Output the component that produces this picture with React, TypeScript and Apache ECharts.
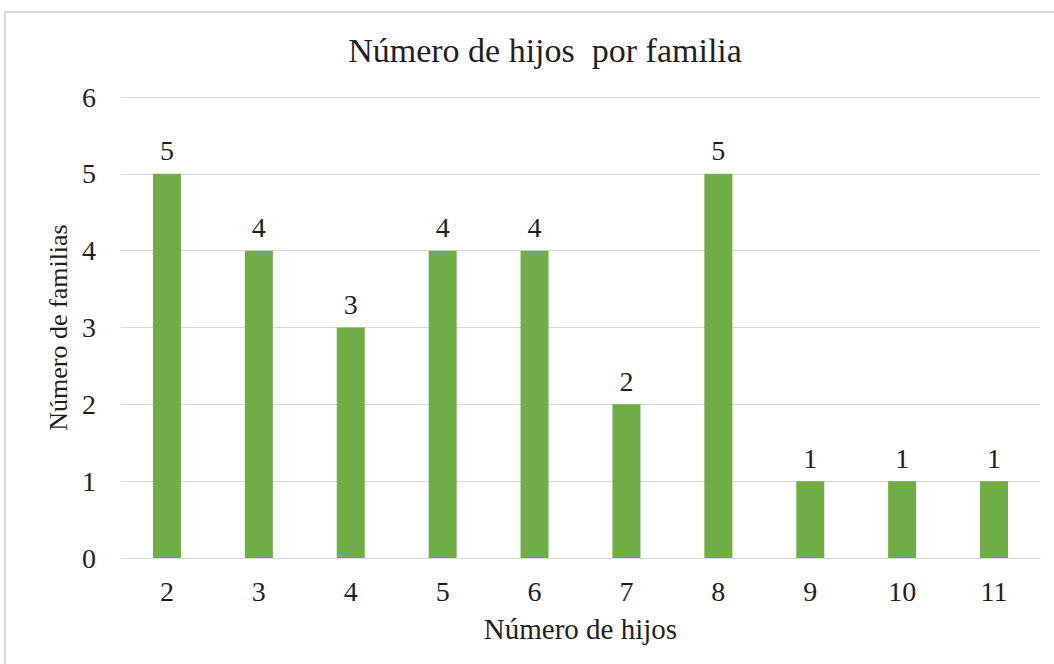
import React, { useEffect, useRef } from "react";
import * as echarts from "echarts";

const categories = ["2", "3", "4", "5", "6", "7", "8", "9", "10", "11"];
const families = [5, 4, 3, 4, 4, 2, 5, 1, 1, 1];
const yTicks = [0, 1, 2, 3, 4, 5, 6];

const FONT = "Liberation Serif";
const TEXT = "#1f1f1f";

export default function App() {
  const ref = useRef<HTMLDivElement>(null);
  useEffect(() => {
    if (!ref.current) return;
    const chart = echarts.init(ref.current, null, { renderer: "svg" });
    chart.setOption({
      animation: false,
      backgroundColor: "#ffffff",
      textStyle: { fontFamily: FONT },
      title: {
        text: "Número de hijos  por familia",
        left: 540,
        top: 28,
        textAlign: "center",
        textStyle: { fontFamily: FONT, fontSize: 34, fontWeight: "normal", color: TEXT },
      },
      graphic: [
        {
          type: "rect",
          shape: { x: 5, y: 12, width: 1060, height: 670 },
          style: { fill: "none", stroke: "#D9D9D9", lineWidth: 2 },
          silent: true,
        },
      ],
      grid: { left: 121, right: 14, top: 97, bottom: 106 },
      xAxis: {
        type: "category",
        data: categories,
        name: "Número de hijos",
        nameLocation: "middle",
        nameGap: 56,
        nameTextStyle: { fontFamily: FONT, fontSize: 29, color: TEXT },
        axisLine: { show: true, lineStyle: { color: "#D9D9D9", width: 1 } },
        axisTick: { show: false },
        axisLabel: { fontFamily: FONT, fontSize: 28, color: TEXT, margin: 19 },
      },
      yAxis: {
        type: "value",
        min: yTicks[0],
        max: yTicks[yTicks.length - 1],
        interval: 1,
        name: "Número de familias",
        nameLocation: "middle",
        nameGap: 48,
        nameTextStyle: { fontFamily: FONT, fontSize: 26, color: TEXT },
        axisLine: { show: false },
        axisTick: { show: false },
        axisLabel: { fontFamily: FONT, fontSize: 28, color: TEXT, margin: 25 },
        splitLine: { lineStyle: { color: "#D9D9D9", width: 1 } },
      },
      series: [
        {
          type: "bar",
          data: families,
          barWidth: 28,
          itemStyle: { color: "#70AD47" },
          label: {
            show: true,
            position: "top",
            distance: 9,
            fontFamily: FONT,
            fontSize: 28,
            color: TEXT,
          },
        },
      ],
    });
    return () => chart.dispose();
  }, []);
  return (
    <div
      ref={ref}
      style={{ position: "fixed", left: 0, top: 0, width: 1054, height: 664 }}
    />
  );
}
